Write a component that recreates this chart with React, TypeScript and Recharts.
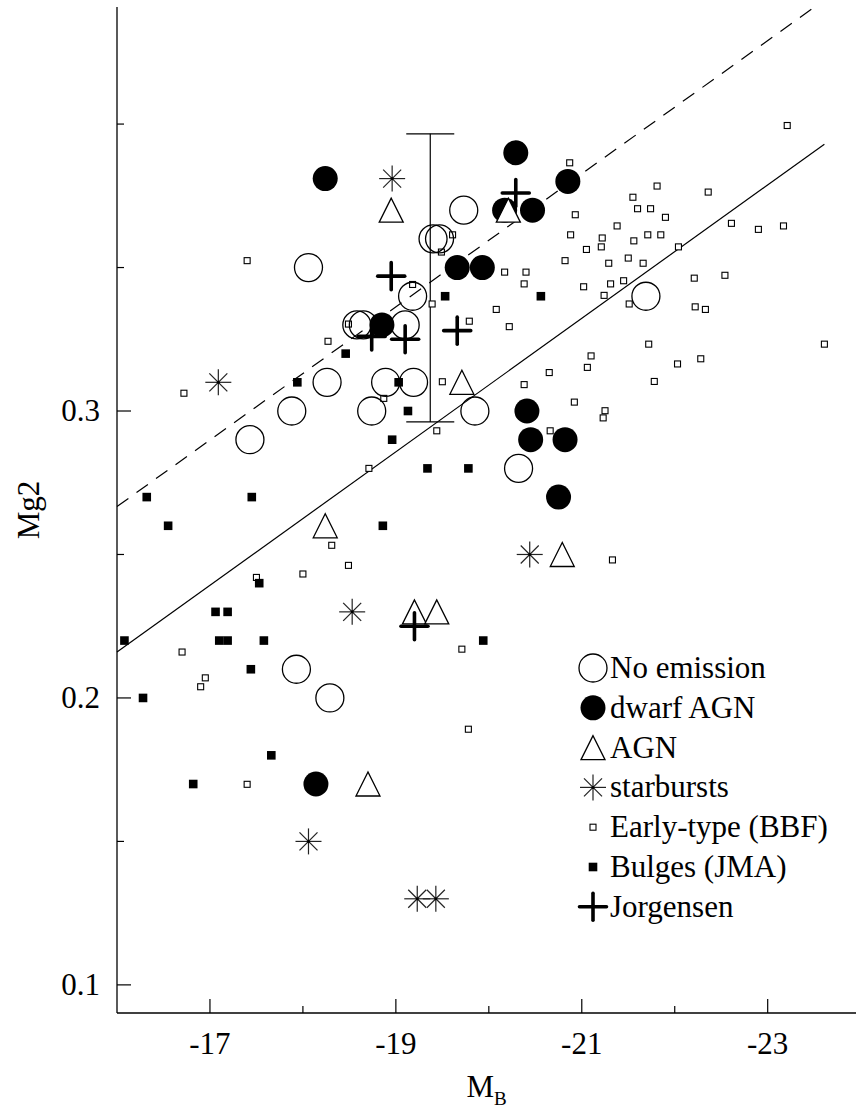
import { ScatterChart, Scatter, XAxis, YAxis, ReferenceLine, ErrorBar, Label } from 'recharts';

// [M_B, Mg2] pairs
const noEmission = [
  [-19.4, 0.36], [-19.47, 0.36], [-19.73, 0.37], [-18.06, 0.35], [-19.18, 0.34],
  [-18.58, 0.33], [-18.65, 0.33], [-19.1, 0.33], [-18.26, 0.31], [-18.89, 0.31],
  [-19.19, 0.31], [-17.88, 0.3], [-18.74, 0.3], [-19.85, 0.3], [-17.43, 0.29],
  [-20.32, 0.28], [-21.69, 0.34], [-17.93, 0.21], [-18.29, 0.2],
];
const dwarfAgn = [
  [-18.24, 0.381], [-20.29, 0.39], [-20.85, 0.38], [-20.17, 0.37], [-20.47, 0.37],
  [-19.66, 0.35], [-19.93, 0.35], [-18.85, 0.33], [-20.41, 0.3], [-20.45, 0.29],
  [-20.82, 0.29], [-20.75, 0.27], [-18.14, 0.17],
];
const agn = [
  [-18.95, 0.37], [-20.21, 0.37], [-19.71, 0.31], [-18.24, 0.26], [-20.79, 0.25],
  [-19.2, 0.23], [-19.44, 0.23], [-18.7, 0.17],
];
const starbursts = [
  [-18.96, 0.381], [-17.09, 0.31], [-18.53, 0.23], [-20.44, 0.25], [-18.06, 0.15],
  [-19.23, 0.13], [-19.43, 0.13],
];
const earlyType = [
  [-17.4, 0.3524], [-19.18, 0.3441], [-19.39, 0.3373], [-18.49, 0.3303], [-18.27, 0.3243],
  [-16.72, 0.3062], [-19.5, 0.3102], [-18.87, 0.3044], [-19.44, 0.2931], [-18.71, 0.28],
  [-18.31, 0.2532], [-18.49, 0.2462], [-18.0, 0.2432], [-17.5, 0.242], [-16.7, 0.216],
  [-16.95, 0.207], [-16.9, 0.2039], [-19.78, 0.1891], [-17.4, 0.1699],
  [-20.87, 0.3865], [-21.81, 0.3784], [-21.55, 0.3745], [-21.6, 0.3705], [-21.74, 0.3705],
  [-21.9, 0.3675], [-20.93, 0.3684], [-21.38, 0.3645], [-22.36, 0.3763], [-23.21, 0.3995],
  [-22.61, 0.3654], [-22.9, 0.3633], [-23.17, 0.3645], [-20.88, 0.3614], [-21.22, 0.3603],
  [-21.71, 0.3614], [-21.85, 0.3614], [-21.05, 0.3563], [-21.21, 0.3572], [-21.56, 0.3593],
  [-22.04, 0.3572], [-20.82, 0.3524], [-21.29, 0.3515], [-21.5, 0.3533], [-21.66, 0.3515],
  [-20.17, 0.3484], [-20.4, 0.3484], [-20.38, 0.3443], [-21.02, 0.3433], [-21.31, 0.3443],
  [-21.45, 0.3454], [-21.24, 0.3403], [-21.51, 0.3373], [-22.21, 0.3463], [-22.54, 0.3473],
  [-22.22, 0.3363], [-22.33, 0.3354], [-23.61, 0.3233], [-21.72, 0.3233], [-22.03, 0.3164],
  [-22.28, 0.3182], [-21.78, 0.3103], [-21.1, 0.3192], [-21.06, 0.3152], [-20.65, 0.3134],
  [-20.38, 0.3092], [-20.92, 0.3031], [-21.25, 0.3001], [-21.23, 0.2976], [-20.08, 0.3354],
  [-20.22, 0.3294], [-19.79, 0.3313], [-19.61, 0.3614], [-19.49, 0.3554], [-20.66, 0.2931],
  [-21.33, 0.2481], [-19.71, 0.217],
];
const bulges = [
  [-18.46, 0.32], [-17.94, 0.31], [-19.03, 0.31], [-19.13, 0.3], [-18.96, 0.29],
  [-19.34, 0.28], [-19.78, 0.28], [-16.32, 0.27], [-17.45, 0.27], [-16.55, 0.26],
  [-18.86, 0.26], [-17.53, 0.24], [-17.06, 0.23], [-17.19, 0.23], [-16.08, 0.22],
  [-17.1, 0.22], [-17.19, 0.22], [-17.58, 0.22], [-19.94, 0.22], [-17.44, 0.21],
  [-16.28, 0.2], [-17.66, 0.18], [-16.82, 0.17], [-19.53, 0.34], [-20.56, 0.34],
];
const jorgensen = [
  [-20.29, 0.376], [-18.95, 0.347], [-19.66, 0.328], [-18.74, 0.326], [-19.1, 0.325],
  [-19.2, 0.225],
];
// typical error bar: [M_B, Mg2, +/- error]
const typicalError = [[-19.37, 0.3464, 0.0502]];
// fitted relations, end points
const solidFit = [[-16, 0.216], [-23.61, 0.393]];
const dashedFit = [[-16, 0.2667], [-23.505, 0.4408]];

const xTicks = [-17, -18, -19, -20, -21, -22, -23];
const xMajor = [-17, -19, -21, -23];
const yTicks = [0.1, 0.15, 0.2, 0.25, 0.3, 0.35, 0.4];
const yMajor = [0.1, 0.2, 0.3];

const legendNames = ['No emission', 'dwarf AGN', 'AGN', 'starbursts', 'Early-type (BBF)', 'Bulges (JMA)', 'Jorgensen'];

const toPts = (arr) => arr.map(([M, mg2]) => ({ M, mg2 }));
const serif = { fontFamily: "'Liberation Serif', 'Times New Roman', Times, serif" };
const isMajor = (list, v) => list.some((m) => Math.abs(m - v) < 1e-6);

const OpenCircle = ({ cx, cy }) => <circle cx={cx} cy={cy} r={14} fill="none" stroke="#000" strokeWidth={1.3} />;
const FilledCircle = ({ cx, cy }) => <circle cx={cx} cy={cy} r={12.5} fill="#000" />;
const Triangle = ({ cx, cy }) => (
  <polygon points={`${cx},${cy - 12} ${cx - 12},${cy + 12} ${cx + 12},${cy + 12}`} fill="#fff" stroke="#000" strokeWidth={1.3} />
);
const Asterisk = ({ cx, cy }) => (
  <g stroke="#222" strokeWidth={1.2}>
    <line x1={cx} y1={cy - 13} x2={cx} y2={cy + 13} />
    <line x1={cx - 13} y1={cy} x2={cx + 13} y2={cy} />
    <line x1={cx - 9} y1={cy - 9} x2={cx + 9} y2={cy + 9} />
    <line x1={cx - 9} y1={cy + 9} x2={cx + 9} y2={cy - 9} />
    <circle cx={cx} cy={cy} r={1.5} fill="#000" stroke="none" />
  </g>
);
const SmallSquare = ({ cx, cy }) => <rect x={cx - 3} y={cy - 3} width={6} height={6} fill="#fff" stroke="#000" strokeWidth={1.1} />;
const FilledSquare = ({ cx, cy }) => <rect x={cx - 4.3} y={cy - 4.3} width={8.6} height={8.6} fill="#000" />;
const Plus = ({ cx, cy }) => (
  <g stroke="#000" strokeWidth={3.6} strokeLinecap="round">
    <line x1={cx - 13.5} y1={cy} x2={cx + 13.5} y2={cy} />
    <line x1={cx} y1={cy - 13.5} x2={cx} y2={cy + 13.5} />
  </g>
);
const Nothing = () => <g />;

const legendShapes = [OpenCircle, FilledCircle, Triangle, Asterisk, SmallSquare, FilledSquare, Plus];

const BottomTick = ({ x, y, payload }) => {
  const major = isMajor(xMajor, payload.value);
  return (
    <g>
      <line x1={x} x2={x} y1={y} y2={y - (major ? 14 : 7)} stroke="#000" strokeWidth={1.2} />
      {major && (
        <text x={x} y={y + 41} textAnchor="middle" fontSize={31} style={serif} fill="#000">
          {String(payload.value)}
        </text>
      )}
    </g>
  );
};
const TopTick = ({ x, y, payload }) => {
  const major = isMajor(xMajor, payload.value);
  return <line x1={x} x2={x} y1={y} y2={y + (major ? 14 : 7)} stroke="#000" strokeWidth={1.2} />;
};
const LeftTick = ({ x, y, payload }) => {
  const major = isMajor(yMajor, payload.value);
  return (
    <g>
      <line x1={x} x2={x + (major ? 14 : 7)} y1={y} y2={y} stroke="#000" strokeWidth={1.2} />
      {major && (
        <text x={x - 17} y={y + 10} textAnchor="end" fontSize={31} style={serif} fill="#000">
          {payload.value.toFixed(1)}
        </text>
      )}
    </g>
  );
};
const RightTick = ({ x, y, payload }) => {
  const major = isMajor(yMajor, payload.value);
  return <line x1={x} x2={x - (major ? 14 : 7)} y1={y} y2={y} stroke="#000" strokeWidth={1.2} />;
};

const XTitle = ({ viewBox }) => {
  const cx = viewBox.x + viewBox.width / 2;
  return (
    <text x={cx - 20} y={viewBox.y + 84} fontSize={31} style={serif} fill="#000">
      M<tspan fontSize={19} dy={8}>B</tspan>
    </text>
  );
};
const YTitle = ({ viewBox }) => {
  const cy = viewBox.y + viewBox.height / 2;
  return (
    <text x={28} y={cy} transform={`rotate(-90 28 ${cy})`} textAnchor="middle" dominantBaseline="central" fontSize={31} style={serif} fill="#000">
      Mg2
    </text>
  );
};

export default function App() {
  const xDomain = [-23.95, -16];
  const yDomain = [0.0902, 0.4408];
  const seg = (a) => a.map(([x, y]) => ({ x, y }));
  const err = typicalError.map(([M, mg2, e]) => ({ M, mg2, e }));

  return (
    <div style={{ position: 'absolute', left: 0, top: 0, width: 856, height: 1110, background: '#fff' }}>
      <ScatterChart width={856} height={1110} margin={{ top: 7, right: 0, bottom: 0, left: 0 }}>
        <XAxis xAxisId="b" type="number" dataKey="M" domain={xDomain} reversed allowDataOverflow ticks={xTicks} interval={0}
          tickLine={false} tickSize={0} tickMargin={0} height={97} stroke="#000" strokeWidth={1.3} tick={BottomTick}>
          <Label content={XTitle} />
        </XAxis>
        <XAxis xAxisId="t" orientation="top" type="number" domain={xDomain} reversed allowDataOverflow ticks={xTicks} interval={0}
          tickLine={false} tickSize={0} tickMargin={0} height={0} stroke="#000" strokeWidth={1.3} tick={TopTick} />
        <YAxis yAxisId="l" type="number" dataKey="mg2" domain={yDomain} allowDataOverflow ticks={yTicks} interval={0}
          tickLine={false} tickSize={0} tickMargin={0} width={117} stroke="#000" strokeWidth={1.3} tick={LeftTick}>
          <Label content={YTitle} />
        </YAxis>
        <YAxis yAxisId="r" orientation="right" type="number" domain={yDomain} allowDataOverflow ticks={yTicks} interval={0}
          tickLine={false} tickSize={0} tickMargin={0} width={0} stroke="#000" strokeWidth={1.3} tick={RightTick} />

        <ReferenceLine xAxisId="b" yAxisId="l" segment={seg(solidFit)} stroke="#000" strokeWidth={1.2} ifOverflow="visible" />
        <ReferenceLine xAxisId="b" yAxisId="l" segment={seg(dashedFit)} stroke="#000" strokeWidth={1.2} strokeDasharray="14 10" ifOverflow="visible" />

        <Scatter xAxisId="b" yAxisId="l" data={err} shape={Nothing} isAnimationActive={false}>
          <ErrorBar dataKey="e" direction="y" width={24} stroke="#000" strokeWidth={1.2} isAnimationActive={false} />
        </Scatter>
        <Scatter xAxisId="b" yAxisId="l" name="Early-type (BBF)" data={toPts(earlyType)} shape={SmallSquare} isAnimationActive={false} />
        <Scatter xAxisId="b" yAxisId="l" name="Bulges (JMA)" data={toPts(bulges)} shape={FilledSquare} isAnimationActive={false} />
        <Scatter xAxisId="b" yAxisId="l" name="No emission" data={toPts(noEmission)} shape={OpenCircle} isAnimationActive={false} />
        <Scatter xAxisId="b" yAxisId="l" name="dwarf AGN" data={toPts(dwarfAgn)} shape={FilledCircle} isAnimationActive={false} />
        <Scatter xAxisId="b" yAxisId="l" name="AGN" data={toPts(agn)} shape={Triangle} isAnimationActive={false} />
        <Scatter xAxisId="b" yAxisId="l" name="starbursts" data={toPts(starbursts)} shape={Asterisk} isAnimationActive={false} />
        <Scatter xAxisId="b" yAxisId="l" name="Jorgensen" data={toPts(jorgensen)} shape={Plus} isAnimationActive={false} />
      </ScatterChart>

      <svg width={296} height={300} style={{ position: 'absolute', left: 560, top: 640, pointerEvents: 'none' }}>
        {legendNames.map((name, i) => {
          const cy = 28 + i * 39.8;
          const Shape = legendShapes[i];
          return (
            <g key={name}>
              <Shape cx={33} cy={cy} />
              <text x={50} y={cy + 10} fontSize={31} style={serif} fill="#000">{name}</text>
            </g>
          );
        })}
      </svg>
    </div>
  );
}
